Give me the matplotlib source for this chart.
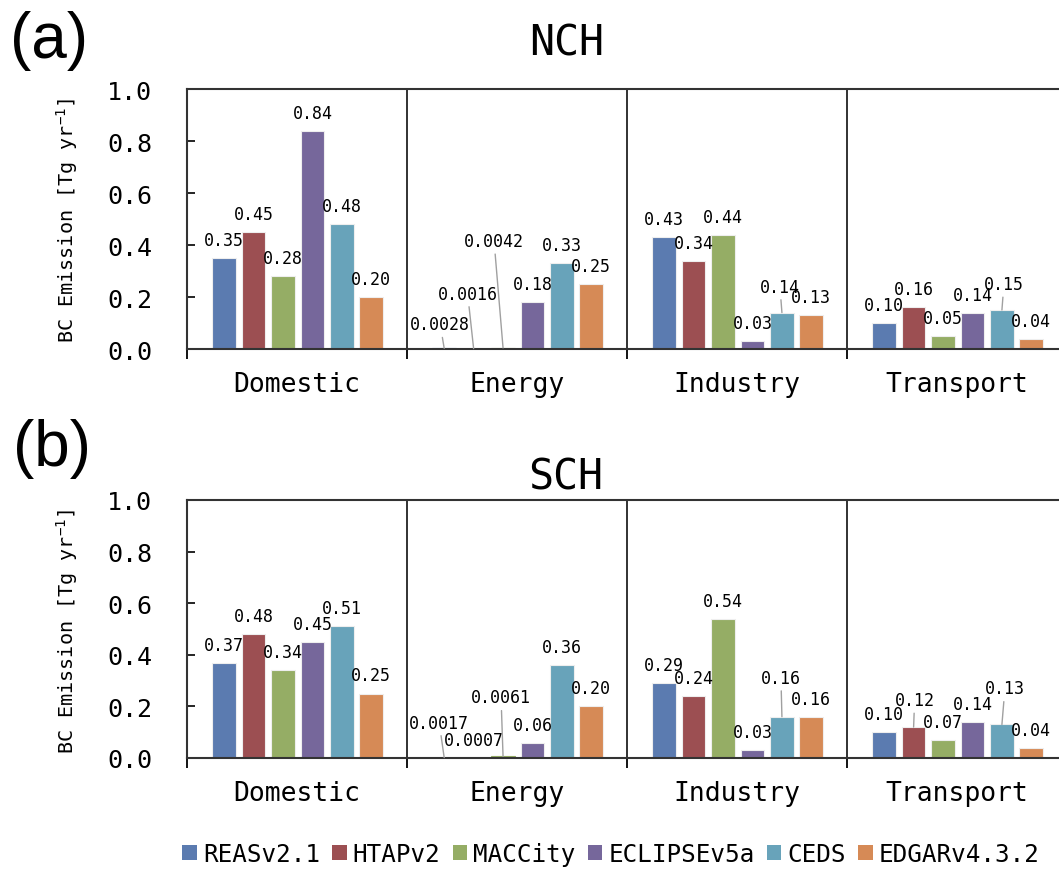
import matplotlib
matplotlib.use('Agg')
import matplotlib.pyplot as plt
from matplotlib.patches import Patch
from matplotlib.transforms import blended_transform_factory

plt.rcParams['font.family'] = ['DejaVu Sans Mono']
plt.rcParams['mathtext.fontset'] = 'custom'
plt.rcParams['mathtext.rm'] = 'DejaVu Sans Mono'
plt.rcParams['mathtext.default'] = 'regular'

# data
sectors = ['Domestic', 'Energy', 'Industry', 'Transport']
inventories = ['REASv2.1', 'HTAPv2', 'MACCity', 'ECLIPSEv5a', 'CEDS', 'EDGARv4.3.2']
colors = ['#5b7bb0', '#9c4f52', '#95ad65', '#76679b', '#68a3ba', '#d68a56']

# rows = sector, columns = inventory
nch = [[0.35, 0.45, 0.28, 0.84, 0.48, 0.20],
       [0.0028, 0.0016, 0.0042, 0.18, 0.33, 0.25],
       [0.43, 0.34, 0.44, 0.03, 0.14, 0.13],
       [0.10, 0.16, 0.05, 0.14, 0.15, 0.04]]
sch = [[0.37, 0.48, 0.34, 0.45, 0.51, 0.25],
       [0.0017, 0.0007, 0.0061, 0.06, 0.36, 0.20],
       [0.29, 0.24, 0.54, 0.03, 0.16, 0.16],
       [0.10, 0.12, 0.07, 0.14, 0.13, 0.04]]

# label placement tweaks (pixel offsets from bar top, leader line)
label_moves = {
    'NCH': {(1, 0): (-4, 24, True), (1, 1): (-6, 55, True), (1, 2): (-9, 107, True),
            (2, 4): (-2, 26, True), (3, 4): (2, 26, True)},
    'SCH': {(1, 0): (-5, 35, True), (1, 2): (-2, 59, True), (2, 4): (-1, 39, True),
            (3, 1): (1, 27, True), (3, 4): (3, 36, True)},
}

W, H = 1059, 870
fig = plt.figure(figsize=(W / 100, H / 100), dpi=100)


def fmt(v):
    return f'{v:.2f}' if v >= 0.01 else f'{v:.4f}'


def draw_panel(ax, values, name):
    moves = label_moves[name]
    pitch = 0.1338
    for i, row in enumerate(values):
        for k, v in enumerate(row):
            x = i + 0.169 + k * pitch
            # tiny values still show as a thin line at the base, like the original
            edge = colors[k] if v < 0.01 else '#eeeeee'
            ax.bar(x, v, width=0.108, color=colors[k], edgecolor=edge, linewidth=0.8)
            dx, dy, leader = moves.get((i, k), (0, 18, False))
            if leader:
                ax.annotate(fmt(v), xy=(x, v), xytext=(dx, dy), textcoords='offset pixels',
                            ha='center', va='center', fontsize=12,
                            arrowprops=dict(arrowstyle='-', color='#a0a0a0', lw=1,
                                            shrinkA=1, shrinkB=0))
            else:
                ax.annotate(fmt(v), xy=(x, v), xytext=(dx, dy), textcoords='offset pixels',
                            ha='center', va='center', fontsize=12)
    for b in range(1, len(sectors)):
        ax.axvline(b, color='#222222', lw=1.3)
    ax.set_xlim(0, len(sectors))
    ax.set_ylim(0, 1.0)
    ticks = [0.0, 0.2, 0.4, 0.6, 0.8, 1.0]
    ax.set_yticks(ticks)
    ax.set_yticklabels([f'{t:.1f}' for t in ticks])
    ax.tick_params(axis='y', direction='in', length=6, width=1.2, labelsize=18, pad=25)
    ax.set_xticks(range(len(sectors) + 1))
    ax.set_xticklabels([])
    ax.tick_params(axis='x', direction='out', length=7, width=1.3)
    trans = blended_transform_factory(ax.transData, ax.transAxes)
    for i, s in enumerate(sectors):
        ax.text(i + 0.5, -0.135, s, transform=trans, ha='center', va='center', fontsize=19)
    for sp in ax.spines.values():
        sp.set_color('#333333')
        sp.set_linewidth(1.5)


ax1 = fig.add_axes([187 / W, 1 - 350 / H, 880 / W, 260 / H])
ax2 = fig.add_axes([187 / W, 1 - 759 / H, 880 / W, 258 / H])
draw_panel(ax1, nch, 'NCH')
draw_panel(ax2, sch, 'SCH')

fig.text(567 / W, 1 - 44 / H, 'NCH', ha='center', va='center', fontsize=30)
fig.text(566 / W, 1 - 478 / H, 'SCH', ha='center', va='center', fontsize=30)
fig.text(49 / W, 1 - 41 / H, '(a)', ha='center', va='center', fontsize=46,
         family=['Liberation Sans', 'DejaVu Sans'])
fig.text(52 / W, 1 - 449 / H, '(b)', ha='center', va='center', fontsize=46,
         family=['Liberation Sans', 'DejaVu Sans'])

ylab = 'BC Emission [Tg yr$^{-1}$]'
fig.text(67 / W, 1 - 220 / H, ylab, rotation=90, ha='center', va='center', fontsize=14.5)
fig.text(67 / W, 1 - 631 / H, ylab, rotation=90, ha='center', va='center', fontsize=14.5)

handles = [Patch(facecolor=c, edgecolor='none') for c in colors]
fig.legend(handles, inventories, loc='center', bbox_to_anchor=(611 / W, 1 - 855 / H),
           ncol=6, frameon=False, fontsize=17.5, handlelength=0.6, handleheight=0.6,
           handletextpad=0.25, columnspacing=0.5, borderpad=0, borderaxespad=0)

fig.savefig('out.png', dpi=100)
